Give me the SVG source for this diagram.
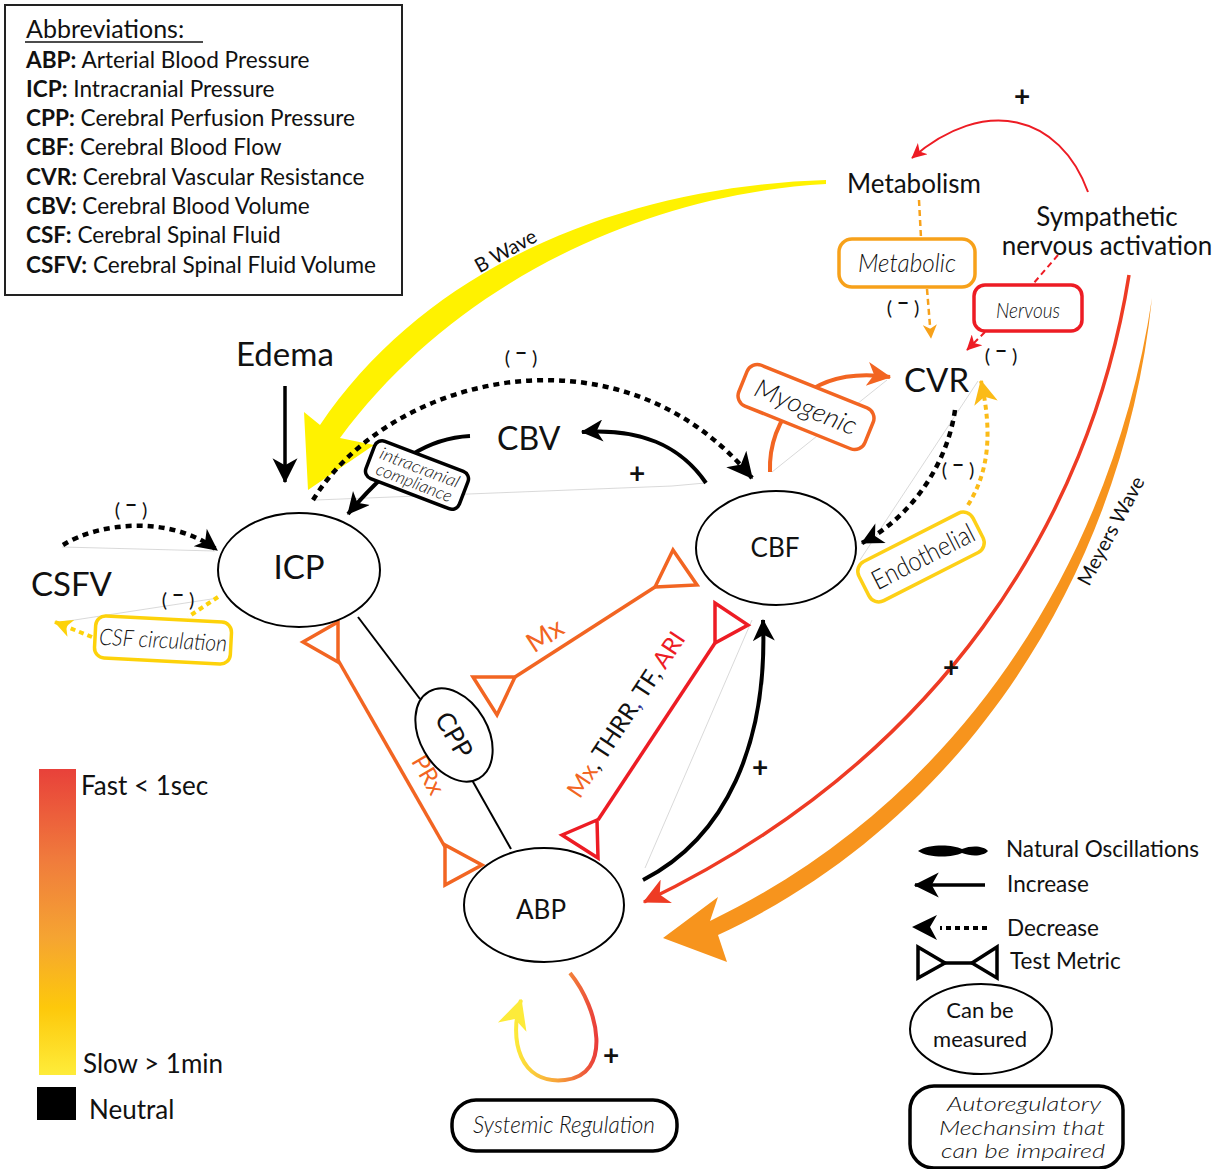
<svg xmlns="http://www.w3.org/2000/svg" width="1225" height="1169" viewBox="0 0 1225 1169">
<style>
  text { font-family: Lato, "Liberation Sans", sans-serif; fill: #111; }
  .lbl { font-size: 26px; }
  .abbr { font-size: 22.6px; }
  .it { font-style: italic; font-weight: 300; }
  .neg { font-size: 20px; text-anchor: middle; }
  .plus { font-size: 28px; font-weight: 700; text-anchor: middle; }
  .node { fill: #fff; stroke: #000; stroke-width: 2; }
  .faint { fill: none; stroke: #c8c8c8; stroke-width: 0.7; }
  .dotk { fill: none; stroke: #000; stroke-width: 4.5; stroke-dasharray: 6 5; }
  .solk { fill: none; stroke: #000; stroke-width: 4; }
  .tm { fill: #fff; stroke-width: 3.5; stroke-linejoin: miter; }
</style>
<defs>
  <marker id="mk" viewBox="0 0 10 10" refX="9.5" refY="5" markerWidth="26" markerHeight="22" markerUnits="userSpaceOnUse" orient="auto"><path d="M0,0 L10,5 L0,10 L2.8,5 Z" fill="#000"/></marker>
  <marker id="mkbig" viewBox="0 0 10 10" refX="9.5" refY="5" markerWidth="32" markerHeight="26" markerUnits="userSpaceOnUse" orient="auto"><path d="M0,0 L10,5 L0,10 L2.8,5 Z" fill="#000"/></marker>
  <marker id="mk2" viewBox="0 0 10 10" refX="9.5" refY="5" markerWidth="25" markerHeight="28" markerUnits="userSpaceOnUse" orient="auto"><path d="M0,0 L10,5 L0,10 L2.8,5 Z" fill="#000"/></marker>
  <marker id="mkred" viewBox="0 0 10 10" refX="9.5" refY="5" markerWidth="18" markerHeight="15" markerUnits="userSpaceOnUse" orient="auto"><path d="M0,0 L10,5 L0,10 L2.8,5 Z" fill="#ed1c24"/></marker>
  <marker id="mkro" viewBox="0 0 10 10" refX="9.5" refY="5" markerWidth="26" markerHeight="26" markerUnits="userSpaceOnUse" orient="auto"><path d="M0,0 L10,5 L0,10 L2.8,5 Z" fill="#ee3b24"/></marker>
  <marker id="mkor" viewBox="0 0 10 10" refX="9.5" refY="5" markerWidth="24" markerHeight="30" markerUnits="userSpaceOnUse" orient="auto"><path d="M0,0 L10,5 L0,10 L2.8,5 Z" fill="#f26522"/></marker>
  <marker id="mkmet" viewBox="0 0 10 10" refX="9.5" refY="5" markerWidth="15" markerHeight="14" markerUnits="userSpaceOnUse" orient="auto"><path d="M0,0 L10,5 L0,10 L2.8,5 Z" fill="#f7a11a"/></marker>
  <marker id="mkyel" viewBox="0 0 10 10" refX="9.5" refY="5" markerWidth="24" markerHeight="24" markerUnits="userSpaceOnUse" orient="auto"><path d="M0,0 L10,5 L0,10 L2.8,5 Z" fill="#fbbb17"/></marker>
  <marker id="mkcsf" viewBox="0 0 10 10" refX="9.5" refY="5" markerWidth="18" markerHeight="20" markerUnits="userSpaceOnUse" orient="auto"><path d="M0,0 L10,5 L0,10 L2.8,5 Z" fill="#fdd20a"/></marker>
  <marker id="mksys" viewBox="0 0 10 10" refX="9.5" refY="5" markerWidth="30" markerHeight="34" markerUnits="userSpaceOnUse" orient="auto"><path d="M0,0 L10,5 L0,10 L2.8,5 Z" fill="#fdeb3a"/></marker>
  <linearGradient id="speed" x1="0" y1="0" x2="0" y2="1">
    <stop offset="0" stop-color="#e8413a"/>
    <stop offset="0.3" stop-color="#f07c3c"/>
    <stop offset="0.55" stop-color="#f5a432"/>
    <stop offset="0.78" stop-color="#fdc80b"/>
    <stop offset="1" stop-color="#feec3a"/>
  </linearGradient>
  <linearGradient id="sysg" gradientUnits="userSpaceOnUse" x1="515" y1="0" x2="600" y2="0">
    <stop offset="0" stop-color="#fdeb3a"/>
    <stop offset="0.5" stop-color="#f7a23a"/>
    <stop offset="1" stop-color="#e8343a"/>
  </linearGradient>
</defs>
<rect width="1225" height="1169" fill="#fff"/>

<!-- Abbreviations -->
<g id="abbreviations">
  <rect x="5" y="5" width="397" height="290" fill="#fff" stroke="#222" stroke-width="2"/>
  <text x="26" y="38" font-size="25">Abbreviations:</text>
  <line x1="25" y1="42" x2="203" y2="42" stroke="#111" stroke-width="1.5"/>
  <text class="abbr" x="26" y="67.5"><tspan font-weight="700">ABP:</tspan> Arterial Blood Pressure</text>
  <text class="abbr" x="26" y="96.8"><tspan font-weight="700">ICP:</tspan> Intracranial Pressure</text>
  <text class="abbr" x="26" y="126.1"><tspan font-weight="700">CPP:</tspan> Cerebral Perfusion Pressure</text>
  <text class="abbr" x="26" y="155.4"><tspan font-weight="700">CBF:</tspan> Cerebral Blood Flow</text>
  <text class="abbr" x="26" y="184.7"><tspan font-weight="700">CVR:</tspan> Cerebral Vascular Resistance</text>
  <text class="abbr" x="26" y="214"><tspan font-weight="700">CBV:</tspan> Cerebral Blood Volume</text>
  <text class="abbr" x="26" y="243.3"><tspan font-weight="700">CSF:</tspan> Cerebral Spinal Fluid</text>
  <text class="abbr" x="26" y="272.6"><tspan font-weight="700">CSFV:</tspan> Cerebral Spinal Fluid Volume</text>
</g>

<!-- Connectors -->
<g id="connectors">
  <!-- faint guide lines -->
  <path class="faint" d="M316,500 L672,486 L705,483"/>
  <path class="faint" d="M772,472 L887,380"/>
  <path class="faint" d="M978,381 L860,560"/>
  <path class="faint" d="M645,868 L752,620"/>
  <path class="faint" d="M62,547 L215,551"/>
  <path class="faint" d="M55,623 L218,598"/>

  <!-- B wave -->
  <path d="M826,180 C 635,186 433,258 320,425 L304,412 L308,490 L374,445 L340,438 C 455,282 645,194 826,184 Z" fill="#fff200"/>
  <text transform="translate(509,257) rotate(-29)" font-size="20" text-anchor="middle">B Wave</text>

  <!-- Meyers wave -->
  <path d="M1152,298 C 1125,560 975,815 718,935 L727,962 L663,938 L718,897 L710,921 C 962,800 1113,558 1152,298 Z" fill="#f7941d"/>
  <text transform="translate(1117,534) rotate(-62)" font-size="20" text-anchor="middle">Meyers Wave</text>

  <!-- Sympathetic -> ABP -->
  <path d="M1129,275 C 1090,520 940,760 644,902" fill="none" stroke="#ee3b24" stroke-width="3.5" marker-end="url(#mkro)"/>
  <text class="plus" x="951" y="677">+</text>

  <!-- Sympathetic -> Metabolism -->
  <path d="M1088,192 C 1060,115 985,95 912,158" fill="none" stroke="#ed1c24" stroke-width="2" marker-end="url(#mkred)"/>
  <text class="plus" x="1022" y="106">+</text>

  <!-- Metabolism -> Metabolic -> CVR -->
  <path d="M919,200 L921,238" fill="none" stroke="#f7a11a" stroke-width="2.5" stroke-dasharray="6 4"/>
  <path d="M927,289 L931,338" fill="none" stroke="#f7a11a" stroke-width="2.5" stroke-dasharray="6 4" marker-end="url(#mkmet)"/>
  <text class="neg" x="903" y="315">( <tspan font-weight="900" dy="-5">−</tspan> <tspan dy="5">)</tspan></text>

  <!-- Sympathetic -> Nervous -> CVR -->
  <path d="M1058,255 L1033,284" fill="none" stroke="#ed1c24" stroke-width="2" stroke-dasharray="6 4"/>
  <path d="M985,332 L967,350" fill="none" stroke="#ed1c24" stroke-width="2" stroke-dasharray="6 4" marker-end="url(#mkred)"/>
  <text class="neg" x="1001" y="363">( <tspan font-weight="900" dy="-5">−</tspan> <tspan dy="5">)</tspan></text>

  <!-- Myogenic: CBF -> CVR -->
  <path d="M770,472 C 768,420 805,365 890,377" fill="none" stroke="#f26522" stroke-width="4" marker-end="url(#mkor)"/>

  <!-- CVR -> CBF (decrease) -->
  <path class="dotk" d="M955,410 C 948,460 915,515 862,543" marker-end="url(#mk)"/>
  <text class="neg" x="958" y="477">( <tspan font-weight="900" dy="-5">−</tspan> <tspan dy="5">)</tspan></text>

  <!-- Endothelial -> CVR -->
  <path d="M968,505 C 990,470 992,430 981,381" fill="none" stroke="#fbbb17" stroke-width="4" stroke-dasharray="5 4" marker-end="url(#mkyel)"/>

  <!-- ICP <-> CBF decrease arc -->
  <path class="dotk" d="M313,500 C 390,375 620,318 752,478" marker-end="url(#mkbig)"/>
  <text class="neg" x="521" y="365">( <tspan font-weight="900" dy="-5">−</tspan> <tspan dy="5">)</tspan></text>

  <!-- CBF -> CBV -->
  <path class="solk" d="M706,483 C 680,445 640,428 582,432" marker-end="url(#mk)"/>
  <text class="plus" x="637" y="483">+</text>

  <!-- CBV -> ICP via compliance -->
  <path class="solk" d="M470,436 C 430,438 395,458 348,514" marker-end="url(#mk)"/>

  <!-- Edema -> ICP -->
  <path d="M285,386 L285,482" fill="none" stroke="#000" stroke-width="3.5" marker-end="url(#mk2)"/>

  <!-- CSFV -> ICP -->
  <path class="dotk" d="M63,545 C 100,522 170,515 217,550" marker-end="url(#mk)"/>
  <text class="neg" x="131" y="517">( <tspan font-weight="900" dy="-5">−</tspan> <tspan dy="5">)</tspan></text>

  <!-- ICP -> CSF circulation -> CSFV -->
  <path d="M218,597 L188,617" fill="none" stroke="#fdd20a" stroke-width="4" stroke-dasharray="5 4"/>
  <path d="M92,637 L55,622" fill="none" stroke="#fdd20a" stroke-width="4" stroke-dasharray="5 4" marker-end="url(#mkcsf)"/>
  <text class="neg" x="178" y="607">( <tspan font-weight="900" dy="-5">−</tspan> <tspan dy="5">)</tspan></text>

  <!-- ICP - CPP - ABP -->
  <line x1="358" y1="617" x2="420" y2="699" stroke="#000" stroke-width="2"/>
  <line x1="472" y1="780" x2="511" y2="849" stroke="#000" stroke-width="2"/>

  <!-- PRx test metric -->
  <g stroke="#f26522" class="tm">
    <line x1="338" y1="660" x2="445" y2="847" stroke-width="3.5"/>
    <polygon points="338,622 338,662 303,642"/>
    <polygon points="445,845 445,885 482,865"/>
  </g>
  <text transform="translate(421,779) rotate(60)" font-size="24" text-anchor="middle" style="fill:#f26522">PRx</text>

  <!-- Mx test metric (CPP-CBF) -->
  <g stroke="#f26522" class="tm">
    <line x1="515" y1="677" x2="655" y2="587" stroke-width="3.5"/>
    <polygon points="473,677 515,677 497,715"/>
    <polygon points="655,587 697,585 673,550"/>
  </g>
  <text transform="translate(550,643) rotate(-33)" font-size="27" text-anchor="middle" style="fill:#f26522">Mx</text>

  <!-- Mx, THRR, TF, ARI test metric (ABP-CBF) -->
  <g stroke="#ed1c24" class="tm">
    <line x1="598" y1="820" x2="715" y2="643" stroke-width="3.5"/>
    <polygon points="562,835 597,820 598,858"/>
    <polygon points="715,603 715,643 748,625"/>
  </g>
  <text transform="translate(633,719) rotate(-56.5)" font-size="24" text-anchor="middle"><tspan style="fill:#f26522">Mx</tspan>, THRR<tspan style="fill:#2e3192">,</tspan> TF, <tspan style="fill:#ed1c24">ARI</tspan></text>

  <!-- ABP -> CBF -->
  <path class="solk" d="M643,880 C 725,838 768,745 763,620" marker-end="url(#mk)"/>
  <text class="plus" x="760" y="777">+</text>

  <!-- Systemic regulation loop -->
  <path d="M570,973 C 600,1010 612,1075 565,1080 C 520,1085 508,1040 521,1000" fill="none" stroke="url(#sysg)" stroke-width="4" marker-end="url(#mksys)"/>
  <text class="plus" x="611" y="1065">+</text>
</g>

<!-- Nodes -->
<g id="node-icp">
  <ellipse class="node" cx="299" cy="570" rx="81" ry="57"/>
  <text x="299" y="579" font-size="33" text-anchor="middle">ICP</text>
</g>
<g id="node-cbf">
  <ellipse class="node" cx="776" cy="548" rx="80" ry="57"/>
  <text x="775" y="557" font-size="26" text-anchor="middle">CBF</text>
</g>
<g id="node-abp">
  <ellipse class="node" cx="544" cy="905" rx="80" ry="57"/>
  <text x="541" y="919" font-size="26" text-anchor="middle">ABP</text>
</g>
<g id="node-cpp" transform="translate(454,735) rotate(60)">
  <ellipse class="node" cx="0" cy="0" rx="50" ry="34"/>
  <text x="0" y="9" font-size="26" text-anchor="middle">CPP</text>
</g>
<g id="node-cbv"><text x="497" y="450" font-size="32">CBV</text></g>
<g id="node-cvr"><text x="904" y="392" font-size="33">CVR</text></g>
<g id="node-csfv"><text x="31" y="596" font-size="33">CSFV</text></g>
<g id="node-edema"><text x="236" y="366" font-size="33">Edema</text></g>
<g id="node-metabolism"><text x="847" y="193" class="lbl">Metabolism</text></g>
<g id="node-sympathetic">
  <text x="1107" y="226" class="lbl" text-anchor="middle">Sympathetic</text>
  <text x="1107" y="255" class="lbl" text-anchor="middle">nervous activation</text>
</g>

<g id="box-metabolic">
  <rect x="839" y="239" width="136" height="48" rx="13" fill="#fff" stroke="#f7a11a" stroke-width="3.5"/>
  <text x="907" y="272" font-size="25" class="it" text-anchor="middle" textLength="98" lengthAdjust="spacingAndGlyphs">Metabolic</text>
</g>
<g id="box-nervous">
  <rect x="974" y="285" width="108" height="46" rx="11" fill="#fff" stroke="#ed1c24" stroke-width="3.5"/>
  <text x="1028" y="318" font-size="22" class="it" text-anchor="middle" textLength="64" lengthAdjust="spacingAndGlyphs">Nervous</text>
</g>
<g id="box-myogenic" transform="translate(806,407) rotate(22)">
  <rect x="-68" y="-22" width="136" height="44" rx="11" fill="#fff" stroke="#f26522" stroke-width="3.5"/>
  <text x="0" y="9" font-size="26" class="it" text-anchor="middle" textLength="108" lengthAdjust="spacingAndGlyphs">Myogenic</text>
</g>
<g id="box-endothelial" transform="translate(921,557) rotate(-27)">
  <rect x="-64" y="-22" width="128" height="44" rx="11" fill="#fff" stroke="#fdd017" stroke-width="3.5"/>
  <text x="2" y="10" font-size="27" font-weight="300" text-anchor="middle" textLength="112" lengthAdjust="spacingAndGlyphs">Endothelial</text>
</g>
<g id="box-compliance" transform="translate(417,475) rotate(21)">
  <rect x="-50" y="-20" width="100" height="40" rx="8" fill="#fff" stroke="#000" stroke-width="3.5"/>
  <text x="0" y="-2" font-size="17" class="it" text-anchor="middle" textLength="84" lengthAdjust="spacingAndGlyphs">intracranial</text>
  <text x="0" y="14" font-size="17" class="it" text-anchor="middle" textLength="80" lengthAdjust="spacingAndGlyphs">compliance</text>
</g>
<g id="box-csf" transform="translate(163,640) rotate(3)">
  <rect x="-68" y="-21" width="136" height="42" rx="10" fill="#fff" stroke="#fdd20a" stroke-width="3.5"/>
  <text x="0" y="8" font-size="23" class="it" text-anchor="middle" textLength="128" lengthAdjust="spacingAndGlyphs">CSF circulation</text>
</g>
<g id="box-systemic">
  <rect x="452" y="1100" width="225" height="51" rx="24" fill="#fff" stroke="#000" stroke-width="3.5"/>
  <text x="564" y="1133" font-size="24" class="it" text-anchor="middle" textLength="182" lengthAdjust="spacingAndGlyphs">Systemic Regulation</text>
</g>

<!-- Speed legend -->
<g id="legend-speed">
  <rect x="39" y="769" width="37" height="306" fill="url(#speed)"/>
  <text x="81" y="795" font-size="26">Fast &lt; 1sec</text>
  <text x="83" y="1073" font-size="26">Slow &gt; 1min</text>
  <rect x="37" y="1087" width="39" height="33" fill="#000"/>
  <text x="89" y="1119" font-size="26">Neutral</text>
</g>

<!-- Symbol legend -->
<g id="legend-symbols">
  <path d="M918,851 C 928,844 952,844 962,849 C 972,845 984,846 988,851 C 984,856 972,857 962,853 C 952,858 928,858 918,851 Z" fill="#000"/>
  <text x="1006" y="857" font-size="22.5">Natural Oscillations</text>
  <path d="M985,885 L915,885" stroke="#000" stroke-width="3.5" marker-end="url(#mk2)"/>
  <text x="1007" y="892" font-size="22.5">Increase</text>
  <path d="M987,928 L940,928" stroke="#000" stroke-width="4" stroke-dasharray="5 4"/>
  <polygon points="937,915 912,927 937,940 930,927" fill="#000"/>
  <text x="1007" y="936" font-size="22.5">Decrease</text>
  <g stroke="#000" class="tm">
    <line x1="945" y1="963" x2="972" y2="963"/>
    <polygon points="918,947 918,978 945,963"/>
    <polygon points="997,947 997,978 972,963"/>
  </g>
  <text x="1010" y="969" font-size="22.5">Test Metric</text>
  <ellipse cx="981" cy="1029" rx="71" ry="45" fill="#fff" stroke="#000" stroke-width="2"/>
  <text x="980" y="1018" font-size="22" text-anchor="middle">Can be</text>
  <text x="980" y="1047" font-size="22" text-anchor="middle">measured</text>
  <rect x="910" y="1086" width="213" height="82" rx="24" fill="#fff" stroke="#000" stroke-width="3.5"/>
  <text x="1024" y="1111" font-size="19.5" class="it" text-anchor="middle" textLength="154" lengthAdjust="spacingAndGlyphs">Autoregulatory</text>
  <text x="1022" y="1134.5" font-size="19.5" class="it" text-anchor="middle" textLength="166" lengthAdjust="spacingAndGlyphs">Mechansim that</text>
  <text x="1023" y="1158" font-size="19.5" class="it" text-anchor="middle" textLength="164" lengthAdjust="spacingAndGlyphs">can be impaired</text>
</g>
</svg>
